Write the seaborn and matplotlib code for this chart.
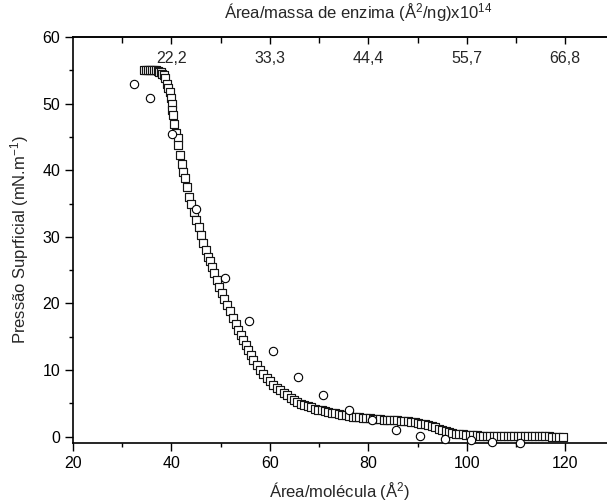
import matplotlib
matplotlib.use('Agg')
import matplotlib.pyplot as plt
import seaborn as sns

sns.set_style('ticks')
plt.rcParams['font.family'] = ['Liberation Sans', 'DejaVu Sans']
plt.rcParams['mathtext.fontset'] = 'custom'
plt.rcParams['mathtext.rm'] = 'Liberation Sans'
plt.rcParams['mathtext.it'] = 'Liberation Sans:italic'
plt.rcParams['mathtext.bf'] = 'Liberation Sans:bold'
plt.rcParams['mathtext.default'] = 'regular'

# ---- data: isotherm (squares) ----
sq_area = [
    34.4, 34.8, 35.2, 35.6, 36.0, 36.4, 36.8, 37.2, 37.5, 37.8, 38.1, 38.4, 38.7,
    39.0, 39.3, 39.7, 40.0, 40.1, 40.2, 40.3, 40.6, 41.0, 41.3, 41.4, 41.7, 42.1,
    42.4, 42.8, 43.1, 43.6, 43.9, 44.5, 45.0, 45.5, 46.0, 46.5, 47.0, 47.5, 47.8,
    48.2, 48.7, 49.2, 49.7, 50.2, 50.7, 51.2, 51.9, 52.6, 53.1, 53.6, 54.1, 54.6,
    55.1, 55.6, 56.1, 56.6, 57.3, 58.0, 58.7, 59.4,
    60.0, 60.7, 61.4, 62.1, 62.8, 63.5, 64.2, 64.9, 65.6, 66.3, 67.0, 67.7, 68.4,
    69.1, 69.8, 70.5, 71.2, 71.9, 72.6, 73.3, 74.0, 74.7, 75.4, 76.1, 76.8, 77.5,
    78.2, 78.9, 79.6, 80.3, 81.0, 81.7, 82.4, 83.1, 83.8, 84.5, 85.2, 85.9, 86.6,
    87.3, 88.0, 88.7, 89.4, 90.1, 90.8, 91.5, 92.2, 92.9, 93.6, 94.3, 95.0, 95.7,
    96.4, 97.1, 97.8, 98.5, 99.2, 99.9, 100.6, 101.3, 102.0, 102.7, 103.4, 104.1,
    104.8, 105.5, 106.2, 106.9, 107.6, 108.3, 109.0, 109.7, 110.4, 111.1, 111.8,
    112.5, 113.2, 113.9, 114.6, 115.3, 116.0, 116.7, 117.4, 118.1, 118.8, 119.5,
]
sq_pressure = [
    55.1, 55.1, 55.1, 55.1, 55.05, 55.0, 55.0, 54.9, 54.8, 54.7, 54.5, 54.3, 53.8,
    53.0, 52.4, 51.7, 50.8, 50.0, 49.0, 48.3, 46.9, 45.6, 44.8, 43.8, 42.3, 41.0,
    39.8, 38.8, 37.5, 36.0, 35.0, 33.8, 32.5, 31.5, 30.3, 29.0, 28.0, 27.0, 26.3,
    25.5, 24.5, 23.5, 22.5, 21.5, 20.6, 19.8, 18.8, 17.8, 16.9, 16.0, 15.2, 14.5,
    13.7, 13.0, 12.2, 11.5, 10.7, 10.0, 9.4, 8.8,
    8.3, 7.8, 7.35, 6.95, 6.55, 6.2, 5.8, 5.45, 5.15, 4.95, 4.75, 4.55, 4.4,
    4.2, 4.05, 3.95, 3.85, 3.75, 3.6, 3.5, 3.35, 3.3, 3.2, 3.1, 3.0, 2.95,
    2.9, 2.85, 2.8, 2.75, 2.72, 2.68, 2.62, 2.57, 2.52, 2.5, 2.47, 2.45, 2.42,
    2.38, 2.32, 2.25, 2.15, 2.05, 1.95, 1.85, 1.7, 1.55, 1.4, 1.2, 1.0, 0.85,
    0.7, 0.55, 0.45, 0.38, 0.33, 0.3, 0.26, 0.22, 0.2, 0.17, 0.15, 0.13,
    0.12, 0.1, 0.1, 0.08, 0.08, 0.07, 0.07, 0.06, 0.06, 0.05, 0.05,
    0.05, 0.04, 0.04, 0.04, 0.03, 0.03, 0.03, 0.02, 0.02, 0.02, 0.02,
]

# ---- data: circles ----
circ_area = [32.4, 35.6, 40.1, 45.0, 50.8, 55.8, 60.7, 65.7, 70.7, 76.0,
             80.8, 85.6, 90.6, 95.6, 100.9, 105.2, 110.9]
circ_pressure = [52.9, 50.9, 45.4, 34.2, 23.8, 17.4, 12.8, 9.0, 6.3, 4.0,
                 2.5, 1.05, 0.15, -0.3, -0.5, -0.75, -0.95]

# ---- axis ticks ----
x_major = [20, 40, 60, 80, 100, 120]
x_minor = [30, 50, 70, 90, 110]
y_major = [0, 10, 20, 30, 40, 50, 60]
y_minor = [5, 15, 25, 35, 45, 55]
top_tick_pos = [40, 60, 80, 100, 120]
top_tick_labels = ['22,2', '33,3', '44,4', '55,7', '66,8']
top_minor = [30, 50, 70, 90, 110]

fig = plt.figure(figsize=(6.07, 5.04), dpi=100)
ax = fig.add_axes([73 / 607, 61 / 504, 534 / 607, 406 / 504])

sns.scatterplot(x=sq_area, y=sq_pressure, marker='s', s=28, facecolor='white',
                edgecolor='#151515', linewidth=0.85, ax=ax, zorder=3)
sns.scatterplot(x=circ_area, y=circ_pressure, marker='o', s=36, facecolor='white',
                edgecolor='black', linewidth=0.8, ax=ax, zorder=4, clip_on=False)

ax.set_xlim(20, 128.5)
ax.set_ylim(-0.95, 60)
ax.set_xticks(x_major)
ax.set_xticks(x_minor, minor=True)
ax.set_yticks(y_major)
ax.set_yticks(y_minor, minor=True)

for side in ['left', 'bottom', 'top']:
    ax.spines[side].set_linewidth(1.2)
    ax.spines[side].set_color('black')
ax.spines['right'].set_visible(False)

ax.tick_params(which='major', direction='out', length=5.8, width=1.0,
               labelsize=11.5, color='black', labelcolor='black')
ax.tick_params(which='minor', direction='out', length=3.2, width=1.0, color='black')
ax.tick_params(top=False, right=False, which='both')

ax.set_xlabel('Área/molécula (Å$^2$)', fontsize=12, labelpad=7)
ax.set_ylabel('Pressão Suprficial (mN.m$^{-1}$)', fontsize=12, labelpad=8)

sec = ax.secondary_xaxis('top')
sec.set_xticks(top_tick_pos, top_tick_labels)
sec.set_xticks(top_minor, minor=True)
sec.tick_params(which='major', direction='in', length=5, width=1.0, pad=-21,
                labelsize=11.5, color='black')
sec.tick_params(which='minor', direction='in', length=4, width=1.0, color='black')
sec.spines['top'].set_linewidth(1.2)

ax.annotate('Área/massa de enzima (Å$^2$/ng)x10$^{14}$', xy=(0.535, 1.0),
            xycoords='axes fraction', xytext=(0, 9), textcoords='offset points',
            ha='center', va='bottom', fontsize=12)

fig.savefig('out.png', dpi=100)
